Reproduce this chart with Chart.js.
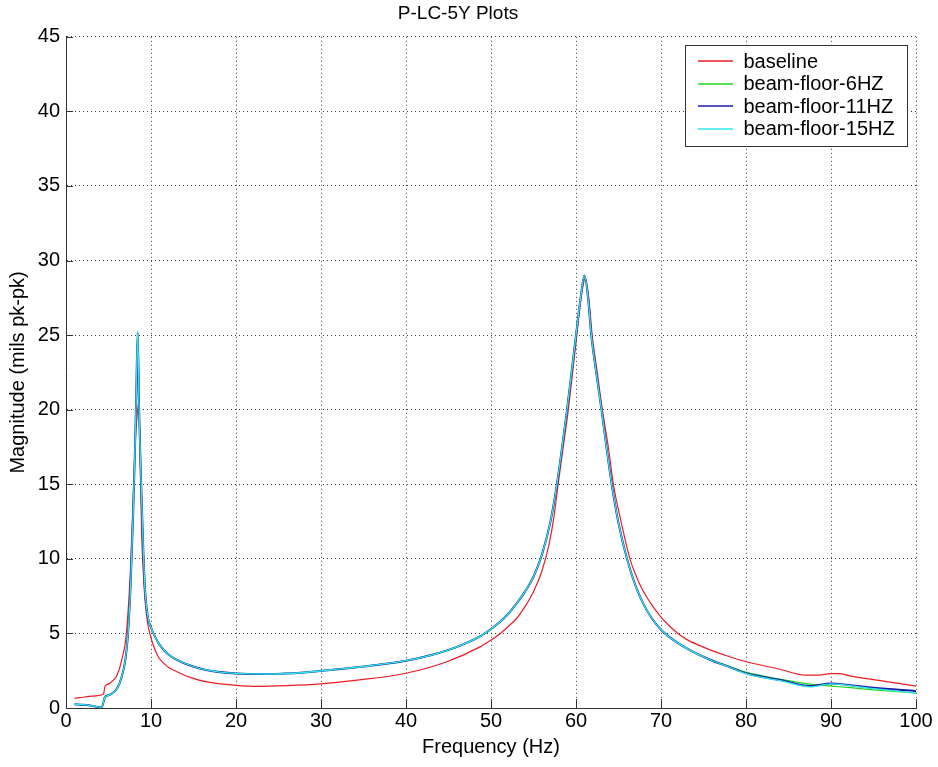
<!DOCTYPE html>
<html>
<head>
<meta charset="utf-8">
<script src="https://cdn.jsdelivr.net/npm/chart.js@4.4.1/dist/chart.umd.min.js"></script>
<style>
html,body{margin:0;padding:0;background:#ffffff;}
#wrap{width:938px;height:767px;}
</style>
</head>
<body>
<div id="wrap"><canvas id="c" width="938" height="767"></canvas></div>
<script>
// ---- data ----
const chartTitle = 'P-LC-5Y Plots';
const xTitle = 'Frequency (Hz)';
const yTitle = 'Magnitude (mils pk-pk)';
const seriesNames = ['baseline', 'beam-floor-6HZ', 'beam-floor-11HZ', 'beam-floor-15HZ'];
const seriesColors = ['#ec1c24', '#1ed61e', '#1a1aa8', '#2ee8e8'];
const xTickValues = [0, 10, 20, 30, 40, 50, 60, 70, 80, 90, 100];
const yTickValues = [0, 5, 10, 15, 20, 25, 30, 35, 40, 45];

const freqBaseline = [1, 2, 3, 4.4, 4.6, 5, 5.6, 6, 6.55, 7.1, 7.6, 7.9, 8.2, 8.4, 8.55, 8.7, 8.9, 9.1, 9.3, 9.6,
  10, 10.5, 11, 12, 13, 14.6, 16.55, 20, 22.5, 26, 30, 34, 40, 44.8, 48.7, 50, 51.1, 52, 53, 54,
  55, 56, 56.8, 57.4, 57.9, 58.5, 59.1, 59.6, 60.1, 60.6, 61.1, 61.5, 61.9, 62.5, 63.1, 63.8, 64.4, 65.3, 66.35, 67.5,
  68.7, 70, 71, 72, 73, 74.5, 76, 78, 80, 84, 87, 88.5, 90, 91, 92.2, 95, 100];
const baseline = [0.65, 0.72, 0.8, 0.92, 1.47, 1.6, 1.88, 2.2, 3.2, 5.0, 9.5, 14.0, 18.4, 19.8, 20.5, 17.3, 11.7, 9.0, 7.2, 5.7,
  4.7, 3.85, 3.3, 2.75, 2.45, 2.05, 1.75, 1.52, 1.45, 1.5, 1.62, 1.85, 2.33, 3.1, 4.1, 4.56, 5.0, 5.45, 6.0, 6.8,
  7.8, 9.2, 10.9, 12.8, 15.0, 17.5, 20.0, 22.5, 25.0, 27.5, 28.8, 27.5, 25.0, 22.5, 20.0, 17.5, 15.0, 12.5, 10.0, 8.3,
  7.1, 6.1, 5.5, 5.0, 4.6, 4.2, 3.85, 3.45, 3.1, 2.6, 2.2, 2.2, 2.3, 2.3, 2.15, 1.9, 1.47];

const freqBeam = [1, 2, 3, 4.2, 4.6, 5, 5.6, 6, 6.5, 7, 7.3, 7.6, 7.9, 8.1, 8.25, 8.43, 8.6, 8.75, 8.9, 9.1,
  9.3, 9.6, 10, 10.5, 11, 12, 13, 14.6, 16.5, 20, 24, 28, 32, 36, 40, 43, 46, 48.7, 50, 51,
  52, 53, 54, 55, 56, 57, 57.7, 58.3, 58.9, 59.5, 60, 60.5, 61, 61.4, 61.8, 62.4, 63, 63.6, 64.2, 65,
  66, 67, 68, 69, 70, 71, 72, 73.5, 75.7, 78, 80, 84.3, 87.5, 90, 92, 95, 100];
const beam6 = [0.25, 0.22, 0.15, 0.05, 0.76, 0.85, 1.05, 1.3, 2.0, 3.3, 5.0, 8.2, 13.0, 17.0, 20.5, 25.0, 20.0, 16.8, 14.0, 10.5,
  7.9, 6.2, 5.4, 4.75, 4.25, 3.6, 3.25, 2.85, 2.55, 2.32, 2.28, 2.38, 2.6, 2.85, 3.17, 3.55, 4.1, 4.8, 5.3, 5.75,
  6.3, 7.0, 7.8, 8.8, 10.3, 12.5, 14.8, 17.2, 19.8, 22.6, 25.0, 27.3, 29.0, 27.6, 25.0, 22.4, 20.0, 17.4, 15.0, 12.4,
  10.0, 8.2, 6.9, 5.95, 5.25, 4.75, 4.35, 3.85, 3.27, 2.8, 2.4, 1.9, 1.6, 1.47, 1.38, 1.22, 1.0];
const beam11 = [0.25, 0.22, 0.15, 0.05, 0.76, 0.85, 1.05, 1.3, 2.0, 3.3, 5.0, 8.2, 13.0, 17.0, 20.5, 25.2, 20.0, 16.8, 14.0, 10.5,
  7.9, 6.2, 5.4, 4.75, 4.25, 3.6, 3.25, 2.85, 2.55, 2.32, 2.28, 2.38, 2.6, 2.85, 3.17, 3.55, 4.1, 4.8, 5.3, 5.75,
  6.3, 7.0, 7.8, 8.8, 10.3, 12.5, 14.8, 17.2, 19.8, 22.6, 25.0, 27.3, 29.0, 27.6, 25.0, 22.4, 20.0, 17.4, 15.0, 12.4,
  10.0, 8.2, 6.9, 5.95, 5.25, 4.75, 4.35, 3.85, 3.25, 2.76, 2.33, 1.85, 1.48, 1.65, 1.55, 1.35, 1.13];
const beam15 = [0.25, 0.22, 0.15, 0.05, 0.76, 0.85, 1.05, 1.3, 2.0, 3.3, 5.0, 8.2, 13.0, 17.0, 20.5, 25.3, 20.0, 16.8, 14.0, 10.5,
  7.9, 6.2, 5.4, 4.75, 4.25, 3.6, 3.25, 2.85, 2.55, 2.32, 2.28, 2.38, 2.6, 2.85, 3.17, 3.55, 4.1, 4.8, 5.3, 5.75,
  6.3, 7.0, 7.8, 8.8, 10.3, 12.5, 14.8, 17.2, 19.8, 22.6, 25.0, 27.3, 29.0, 27.6, 25.0, 22.4, 20.0, 17.4, 15.0, 12.4,
  10.0, 8.2, 6.9, 5.95, 5.25, 4.75, 4.35, 3.85, 3.25, 2.75, 2.3, 1.8, 1.42, 1.62, 1.52, 1.3, 1.0];

// ---- build chart ----
const FONT = 'Liberation Sans, Arial, Helvetica, sans-serif';
function pts(xs, ys) { return xs.map((x, i) => ({ x: x, y: ys[i] })); }

const seriesData = [pts(freqBaseline, baseline), pts(freqBeam, beam6), pts(freqBeam, beam11), pts(freqBeam, beam15)];
const drawOrder = [3, 2, 1, 0];
const widths = [1.2, 1.2, 2.0, 1.3];

const datasets = seriesNames.map((name, i) => ({
  label: name,
  data: seriesData[i],
  borderColor: seriesColors[i],
  backgroundColor: seriesColors[i],
  borderWidth: widths[i],
  pointRadius: 0,
  pointHoverRadius: 0,
  fill: false,
  cubicInterpolationMode: 'monotone',
  order: drawOrder[i]
}));

const insideTicks = {
  id: 'insideTicks',
  afterDraw(chart) {
    const ctx = chart.ctx;
    const xs = chart.scales.x, ys = chart.scales.y;
    const area = chart.chartArea;
    ctx.save();
    ctx.strokeStyle = '#333333';
    ctx.lineWidth = 1;
    ctx.beginPath();
    xTickValues.forEach(v => {
      const p = Math.round(xs.getPixelForValue(v)) + 0.5;
      ctx.moveTo(p, area.bottom);
      ctx.lineTo(p, area.bottom - 9);
    });
    yTickValues.forEach(v => {
      const p = Math.round(ys.getPixelForValue(v)) + 0.5;
      ctx.moveTo(area.left, p);
      ctx.lineTo(area.left + 7, p);
    });
    ctx.stroke();
    ctx.restore();
  }
};

const boxLegend = {
  id: 'boxLegend',
  afterDraw(chart) {
    const ctx = chart.ctx;
    const area = chart.chartArea;
    const w = 222, h = 101;
    const left = Math.round(area.right - 9 - w) + 0.5;
    const top = Math.round(area.top + 8) + 0.5;
    ctx.save();
    ctx.fillStyle = '#ffffff';
    ctx.fillRect(left, top, w, h);
    ctx.strokeStyle = '#333333';
    ctx.lineWidth = 1;
    ctx.strokeRect(left, top, w, h);
    ctx.font = '20px ' + FONT;
    ctx.textBaseline = 'middle';
    ctx.textAlign = 'left';
    chart.data.datasets.forEach((ds, i) => {
      const y = top + 15.5 + i * 22.6;
      ctx.strokeStyle = ds.borderColor;
      ctx.lineWidth = 1.5;
      ctx.beginPath();
      ctx.moveTo(Math.round(left + 12), Math.round(y));
      ctx.lineTo(Math.round(left + 47), Math.round(y));
      ctx.stroke();
      ctx.fillStyle = '#000000';
      ctx.fillText(ds.label, left + 58, y + 1);
    });
    ctx.restore();
  }
};

new Chart(document.getElementById('c'), {
  type: 'line',
  data: { datasets: datasets },
  options: {
    responsive: false,
    animation: false,
    devicePixelRatio: 1,
    layout: { padding: { left: 0, right: 22, top: 0, bottom: 0 } },
    plugins: {
      legend: { display: false },
      tooltip: { enabled: false },
      title: {
        display: true,
        text: chartTitle,
        color: '#000000',
        font: { family: FONT, size: 19, weight: 'normal' },
        padding: { top: 2, bottom: 12 }
      }
    },
    scales: {
      x: {
        type: 'linear',
        min: 0, max: 100,
        afterFit(s) { s.height = 59; },
        afterBuildTicks(s) { s.ticks = xTickValues.map(v => ({ value: v })); },
        ticks: { color: '#000000', font: { family: FONT, size: 20 }, padding: 1, maxRotation: 0, autoSkip: false },
        grid: { color: '#3a3a3a', lineWidth: 1, drawTicks: false },
        border: { display: true, color: '#333333', width: 1, dash: [1, 3] },
        title: { display: true, text: xTitle, color: '#000000', font: { family: FONT, size: 20 }, padding: { top: 0, bottom: 8 } }
      },
      y: {
        type: 'linear',
        min: 0, max: 45,
        afterFit(s) { s.width = 66; },
        afterBuildTicks(s) { s.ticks = yTickValues.map(v => ({ value: v })); },
        ticks: { color: '#000000', font: { family: FONT, size: 20 }, padding: 6, autoSkip: false },
        grid: { color: '#3a3a3a', lineWidth: 1, drawTicks: false },
        border: { display: true, color: '#333333', width: 1, dash: [1, 3] },
        title: { display: true, text: yTitle, color: '#000000', font: { family: FONT, size: 20 }, padding: { top: 6, bottom: 0 } }
      }
    }
  },
  plugins: [insideTicks, boxLegend]
});
</script>
</body>
</html>
